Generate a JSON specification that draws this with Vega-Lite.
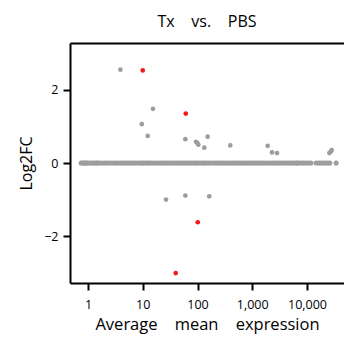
{
  "$schema": "https://vega.github.io/schema/vega-lite/v6.json",
  "autosize": {"type": "none"},
  "padding": {"left": 70, "top": 43, "right": 0, "bottom": 62},
  "width": 274,
  "height": 240,
  "background": "white",
  "view": {"stroke": null},
  "config": {
    "font": "Open Sans",
    "axis": {"domainColor": "black", "domainWidth": 2, "tickColor": "black", "tickWidth": 2, "grid": false, "labelColor": "black", "titleColor": "black", "labelFont": "Open Sans", "titleFont": "Open Sans", "titleFontWeight": "normal"}
  },
  "title": {"text": "Tx\u00a0\u00a0\u00a0 vs.\u00a0\u00a0\u00a0 PBS", "fontSize": 16, "fontWeight": "normal", "font": "Open Sans", "color": "black", "offset": 13, "anchor": "middle"},
  "layer": [
    {
      "data": {"values": [
        {"m": 0.75}, {"m": 0.8}, {"m": 0.85}, {"m": 0.9}, {"m": 0.95}, {"m": 1}, {"m": 1.1}, {"m": 1.2}, {"m": 1.3}, {"m": 1.4}, {"m": 1.5}, {"m": 1.6}, {"m": 1.8}, {"m": 2}, {"m": 2.2}, {"m": 2.4}, {"m": 2.7}, {"m": 3}, {"m": 3.3}, {"m": 3.6}, {"m": 4}, {"m": 4.4}, {"m": 4.8}, {"m": 5.3}, {"m": 5.8}, {"m": 6.4}, {"m": 7}, {"m": 7.7}, {"m": 8.5}, {"m": 9.3},
        {"m": 10}, {"m": 11}, {"m": 12}, {"m": 13}, {"m": 14}, {"m": 15.5}, {"m": 17}, {"m": 19}, {"m": 21}, {"m": 23}, {"m": 25}, {"m": 27.5}, {"m": 30}, {"m": 33}, {"m": 36}, {"m": 40}, {"m": 44}, {"m": 48}, {"m": 53}, {"m": 58}, {"m": 64}, {"m": 70}, {"m": 77}, {"m": 85}, {"m": 93},
        {"m": 100}, {"m": 110}, {"m": 120}, {"m": 130}, {"m": 140}, {"m": 155}, {"m": 170}, {"m": 190}, {"m": 210}, {"m": 230}, {"m": 250}, {"m": 275}, {"m": 300}, {"m": 330}, {"m": 360}, {"m": 400}, {"m": 440}, {"m": 480}, {"m": 530}, {"m": 580}, {"m": 640}, {"m": 700}, {"m": 770}, {"m": 850}, {"m": 930},
        {"m": 1000}, {"m": 1100}, {"m": 1200}, {"m": 1300}, {"m": 1400}, {"m": 1550}, {"m": 1700}, {"m": 1900}, {"m": 2100}, {"m": 2300}, {"m": 2500}, {"m": 2750}, {"m": 3000}, {"m": 3300}, {"m": 3600}, {"m": 4000}, {"m": 4400}, {"m": 4800}, {"m": 5300}, {"m": 5800}, {"m": 6400}, {"m": 6600},
        {"m": 7250}, {"m": 8000}, {"m": 8800}, {"m": 9700}, {"m": 10700}, {"m": 11800},
        {"m": 14700}, {"m": 16200}, {"m": 17800}, {"m": 19600}, {"m": 21600}, {"m": 23800}, {"m": 26000},
        {"m": 34000}
      ]},
      "mark": {"type": "point", "filled": true, "size": 26, "opacity": 1, "color": "#9d9d9d"},
      "encoding": {
        "x": {"field": "m", "type": "quantitative", "scale": {"type": "log", "domain": [0.469, 47400], "nice": false},
              "axis": {"orient": "bottom", "values": [1, 10, 100, 1000, 10000], "format": ",", "labelFontSize": 12.5, "tickSize": 7, "labelPadding": 8, "title": "Average\u00a0\u00a0\u00a0 mean\u00a0\u00a0\u00a0 expression", "titleFontSize": 16.5, "titlePadding": 6}},
        "y": {"datum": 0, "type": "quantitative", "scale": {"domain": [-3.28, 3.28], "nice": false},
              "axis": {"values": [-2, 0, 2], "format": "d", "labelFontSize": 12.5, "tickSize": 7, "labelPadding": 5, "title": "Log2FC", "titleFontSize": 16, "titlePadding": 9}}
      }
    },
    {
      "data": {"values": [
        {"m": 3.9, "lfc": 2.55, "sig": "no"},
        {"m": 15.4, "lfc": 1.48, "sig": "no"},
        {"m": 9.6, "lfc": 1.06, "sig": "no"},
        {"m": 12.3, "lfc": 0.74, "sig": "no"},
        {"m": 60, "lfc": 0.65, "sig": "no"},
        {"m": 94, "lfc": 0.58, "sig": "no"},
        {"m": 99, "lfc": 0.55, "sig": "no"},
        {"m": 103.5, "lfc": 0.5, "sig": "no"},
        {"m": 153, "lfc": 0.72, "sig": "no"},
        {"m": 133, "lfc": 0.42, "sig": "no"},
        {"m": 397, "lfc": 0.48, "sig": "no"},
        {"m": 1915, "lfc": 0.47, "sig": "no"},
        {"m": 2295, "lfc": 0.29, "sig": "no"},
        {"m": 2834, "lfc": 0.27, "sig": "no"},
        {"m": 25550, "lfc": 0.27, "sig": "no"},
        {"m": 27100, "lfc": 0.31, "sig": "no"},
        {"m": 28250, "lfc": 0.35, "sig": "no"},
        {"m": 26.6, "lfc": -1.0, "sig": "no"},
        {"m": 60, "lfc": -0.89, "sig": "no"},
        {"m": 164, "lfc": -0.91, "sig": "no"},
        {"m": 10, "lfc": 2.53, "sig": "yes"},
        {"m": 61, "lfc": 1.35, "sig": "yes"},
        {"m": 101, "lfc": -1.62, "sig": "yes"},
        {"m": 40, "lfc": -3.01, "sig": "yes"}
      ]},
      "mark": {"type": "point", "filled": true, "size": 22, "opacity": 1},
      "encoding": {
        "x": {"field": "m", "type": "quantitative", "scale": {"type": "log", "domain": [0.469, 47400], "nice": false},
              "axis": {"orient": "top", "labels": false, "ticks": false, "title": null, "domain": true}},
        "y": {"field": "lfc", "type": "quantitative", "scale": {"domain": [-3.28, 3.28], "nice": false},
              "axis": {"values": [-2, 0, 2], "format": "d", "labelFontSize": 12.5, "tickSize": 7, "labelPadding": 5, "title": "Log2FC", "titleFontSize": 16, "titlePadding": 9}},
        "color": {"field": "sig", "type": "nominal", "scale": {"domain": ["no", "yes"], "range": ["#9d9d9d", "#f41818"]}, "legend": null}
      }
    }
  ],
  "resolve": {"axis": {"x": "independent"}}
}
